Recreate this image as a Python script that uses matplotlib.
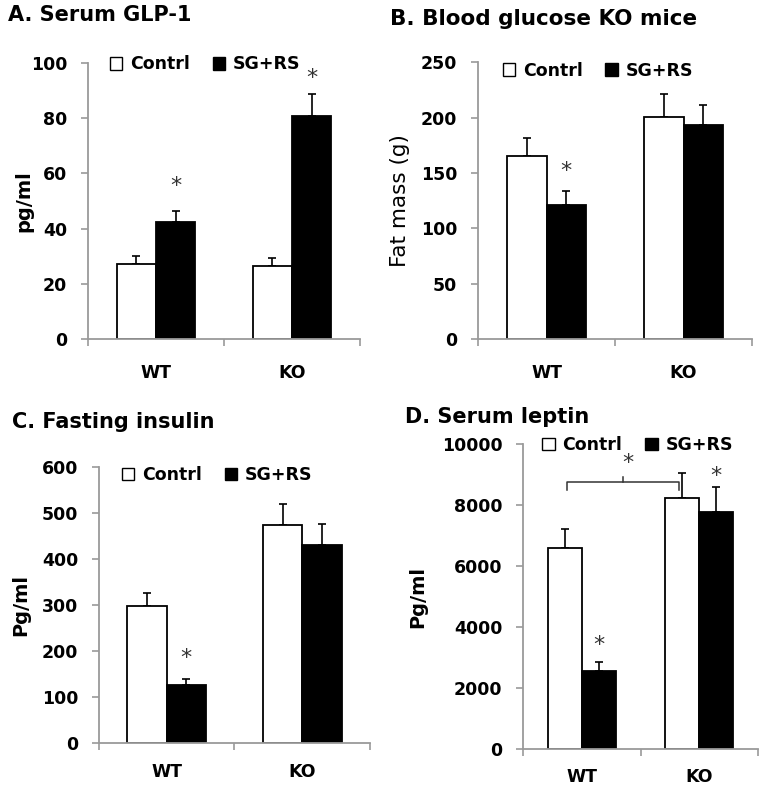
import matplotlib
matplotlib.use("Agg")
import matplotlib.pyplot as plt
import numpy as np

plt.rcParams['font.family'] = ['DejaVu Sans']

groups = ["WT", "KO"]
legend_labels = ["Contrl", "SG+RS"]

# Panel A: Serum GLP-1
a_ctrl = [27.2, 26.6]
a_ctrl_err = [2.7, 2.9]
a_sg = [42.5, 80.9]
a_sg_err = [4.0, 7.8]

# Panel B: Fat mass
b_ctrl = [165.3, 200.3]
b_ctrl_err = [16.7, 20.7]
b_sg = [121.3, 193.3]
b_sg_err = [12.7, 18.1]

# Panel C: Fasting insulin
c_ctrl = [297.7, 473.4]
c_ctrl_err = [27.3, 46.6]
c_sg = [126.4, 430.6]
c_sg_err = [13.6, 44.4]

# Panel D: Serum leptin
d_ctrl = [6587, 8228]
d_ctrl_err = [633, 840]
d_sg = [2560, 7778]
d_sg_err = [295, 811]

W, H = 771, 789
fig = plt.figure(figsize=(W / 100, H / 100), dpi=100)

def px_axes(x0, x1, ytop, ybot):
    return fig.add_axes([x0 / W, 1 - ybot / H, (x1 - x0) / W, (ybot - ytop) / H])

spine_col = "#9a9a9a"
bw = 0.29
FS = 12.5

def draw(ax, ctrl, ctrl_err, sg, sg_err, ymax, ystep, ylabel, lab_x, leg_xy, stars,
         ylab_size=14, ylab_weight='bold', xpad=18):
    x = np.arange(len(groups))
    ax.bar(x - bw / 2, ctrl, bw, color="white", edgecolor="black", linewidth=1.3, zorder=2)
    ax.bar(x + bw / 2, sg, bw, color="black", edgecolor="black", linewidth=1.3, zorder=2)
    ax.errorbar(x - bw / 2, ctrl, yerr=[np.zeros(len(ctrl)), ctrl_err], fmt="none",
                ecolor="black", elinewidth=1.2, capsize=3, capthick=1.2, zorder=1)
    ax.errorbar(x + bw / 2, sg, yerr=[np.zeros(len(sg)), sg_err], fmt="none",
                ecolor="black", elinewidth=1.2, capsize=3, capthick=1.2, zorder=1)
    ax.set_xlim(-0.5, 1.5)
    ax.set_ylim(0, ymax)
    yt = np.arange(0, ymax + 1, ystep)
    ax.set_yticks(yt, labels=[str(int(v)) for v in yt], fontsize=FS, fontweight='bold')
    ax.set_xticks(x, labels=groups, fontsize=FS, fontweight='bold')
    ax.set_xticks([-0.5, 0.5, 1.5], minor=True)
    ax.tick_params(axis='x', which='major', length=0, pad=xpad)
    ax.tick_params(axis='x', which='minor', length=5, color=spine_col, width=1.2)
    ax.tick_params(axis='y', length=5, color=spine_col, width=1.2, pad=10)
    for s in ["top", "right"]:
        ax.spines[s].set_visible(False)
    for s in ["left", "bottom"]:
        ax.spines[s].set_color(spine_col)
        ax.spines[s].set_linewidth(1.3)
    ax.set_ylabel(ylabel, fontsize=ylab_size, fontweight=ylab_weight)
    ax.yaxis.set_label_coords(lab_x, 0.5)
    leg = ax.legend(legend_labels, loc="center left", bbox_to_anchor=leg_xy, ncol=2, frameon=False,
                    handlelength=0.72, handleheight=0.72, handletextpad=0.45, columnspacing=1.3,
                    borderpad=0, borderaxespad=0,
                    prop={'size': FS, 'weight': 'bold'})
    for h in leg.legend_handles:
        h.set_edgecolor("black")
        h.set_linewidth(1.0)
    for (xi, yi) in stars:
        ax.text(xi, yi, "*", ha="center", va="center", fontsize=16, color="#333333")
    return ax

TS = 15

# Panel A
axA = px_axes(88, 360, 63, 339)
draw(axA, a_ctrl, a_ctrl_err, a_sg, a_sg_err, 100, 20, "pg/ml", -0.202, (0.08, 0.995),
     [(0 + bw / 2, 55.5), (1 + bw / 2, 94.5)])
fig.text(8 / W, 1 - 21 / H, "A. Serum GLP-1", fontsize=TS, fontweight='bold', va="baseline", ha="left")

# Panel B
axB = px_axes(478, 752, 62.3, 339)
draw(axB, b_ctrl, b_ctrl_err, b_sg, b_sg_err, 250, 50, "Fat mass (g)", -0.248, (0.09, 0.97),
     [(0 + bw / 2, 152)], ylab_size=15.5, ylab_weight='normal')
fig.text(390 / W, 1 - 25 / H, "B. Blood glucose KO mice", fontsize=15.5, fontweight='bold', va="baseline", ha="left")

# Panel C
axC = px_axes(99, 370, 466.7, 743.3)
draw(axC, c_ctrl, c_ctrl_err, c_sg, c_sg_err, 600, 100, "Pg/ml", -0.255, (0.084, 0.97),
     [(0 + bw / 2, 184)], xpad=14)
fig.text(12 / W, 1 - 428 / H, "C. Fasting insulin", fontsize=TS, fontweight='bold', va="baseline", ha="left")

# Panel D
axD = px_axes(523.3, 758, 444.3, 749)
draw(axD, d_ctrl, d_ctrl_err, d_sg, d_sg_err, 10000, 2000, "Pg/ml", -0.41, (0.081, 0.998),
     [(0 + bw / 2, 3400), (1 + bw / 2, 8950)], xpad=14)
fig.text(405 / W, 1 - 423 / H, "D. Serum leptin", fontsize=TS, fontweight='bold', va="baseline", ha="left")
# bracket
bx0, bx1, by, bdrop, bup = -0.13, 0.83, 8773, 270, 170
axD.plot([bx0, bx0, bx1, bx1], [by - bdrop, by, by, by - bdrop], color="#333333", lw=1.1)
axD.plot([(bx0 + bx1) / 2] * 2, [by, by + bup], color="#333333", lw=1.1)
axD.text((bx0 + bx1) / 2 + 0.04, 9380, "*", ha="center", va="center", fontsize=16, color="#333333")

fig.savefig("out.png", dpi=100, facecolor="white")
